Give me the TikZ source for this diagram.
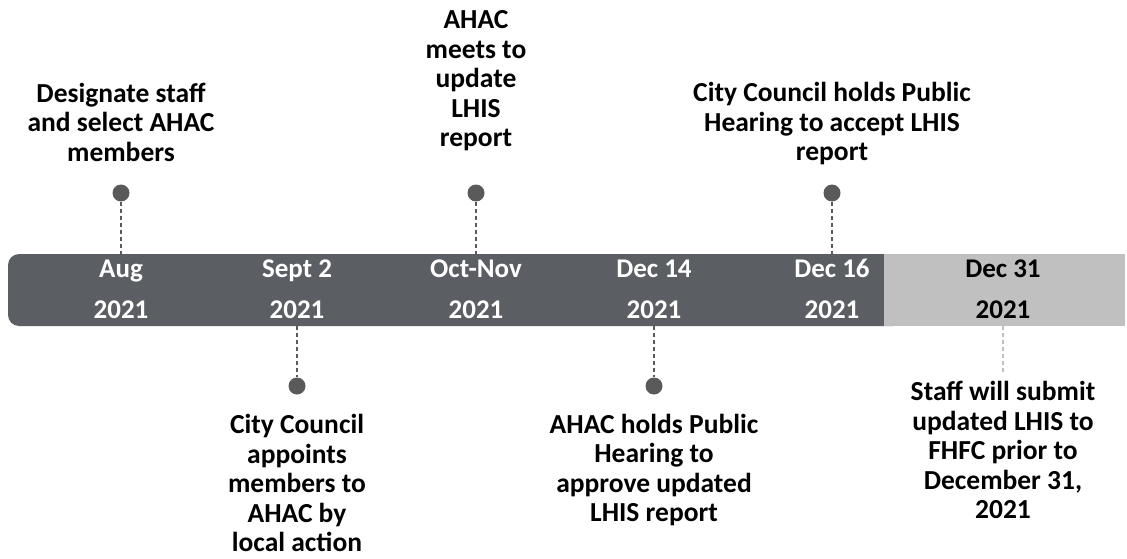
\documentclass[tikz,border=0pt]{standalone}
\usepackage{fontspec}
\setmainfont{Carlito}
\usetikzlibrary{positioning}

\definecolor{bardark}{RGB}{91,94,99}
\definecolor{barlight}{RGB}{192,192,192}
\definecolor{dotgray}{RGB}{90,90,90}

\tikzset{
  event/.style={font=\bfseries\fontsize{27.5}{29.5}\selectfont, align=center, inner sep=0pt},
  datelabel/.style={font=\bfseries\fontsize{27}{30}\selectfont, text=white, inner sep=0pt, anchor=base},
  dot/.style={circle, fill=dotgray, minimum size=17pt, inner sep=0pt},
  stem/.style={draw=dotgray, line width=1.2pt, dash pattern=on 4pt off 3pt}
}

\begin{document}
\begin{tikzpicture}[x=1pt, y=-1pt]
    % --- SETTINGS ---
    \def\Top{254}   % top edge of the bar
    \def\Bot{326}   % bottom edge of the bar
    \def\Split{884} % where the light part starts
    \useasboundingbox (0,0) rectangle (1127,559);

    % --- BAR ---
    \fill[bardark, rounded corners=11pt] (8,\Top) rectangle (\Split+20,\Bot);
    \fill[barlight] (\Split,\Top) rectangle (1125,\Bot);
    \coordinate (bartop) at (0,\Top);
    \coordinate (barbot) at (0,\Bot);

    % --- DATES ---
    \foreach \x/\m/\n in {121/Aug/aug, 297/Sept 2/sep, 476/Oct-Nov/oct,
                          654/Dec 14/dec14, 832/Dec 16/dec16} {
        \node[datelabel] (\n) at (\x,277) {\m};
        \node[datelabel] (\n y) at (\x,318) {2021};
    }
    \node[datelabel, text=black] (dec31) at (1003,277) {Dec 31};
    \node[datelabel, text=black] (dec31 y) at (1003,318) {2021};

    % --- EVENTS ABOVE ---
    \node[dot] (dAug) at (121,193) {};
    \node[dot] (dOct) at (476,193) {};
    \node[dot] (dDec16) at (832,193) {};
    \node[event] (eAug) at (121,122) {Designate staff\\and select AHAC\\members};
    \node[event] (eOct) at (476,81) {AHAC\\meets to\\update\\LHIS\\report};
    \node[event] (eDec16) at (832,124) {City Council holds Public\\Hearing to accept LHIS\\report};
    \draw[stem] (dAug) -- (dAug |- bartop);
    \draw[stem] (dOct) -- (dOct |- bartop);
    \draw[stem] (dDec16) -- (dDec16 |- bartop);

    % --- EVENTS BELOW ---
    \node[dot] (dSep) at (297,386) {};
    \node[dot] (dDec14) at (654,386) {};
    \coordinate (dDec31) at (1003,372);
    \node[event] (eSep) at (297,483) {City Council\\appoints\\members to\\AHAC by\\local action};
    \node[event] (eDec14) at (654,470) {AHAC holds Public\\Hearing to\\approve updated\\LHIS report};
    \node[event] (eDec31) at (1003,450) {Staff will submit\\updated LHIS to\\FHFC prior to\\December 31,\\2021};
    \draw[stem] (dSep |- barbot) -- (dSep);
    \draw[stem] (dDec14 |- barbot) -- (dDec14);
    \draw[stem, draw=barlight] (dDec31 |- barbot) -- (dDec31);

\end{tikzpicture}
\end{document}
